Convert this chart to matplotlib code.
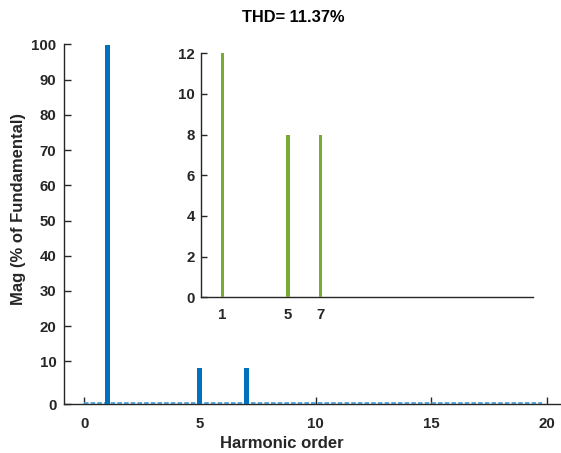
"""
Harmonic spectrum with inset of the harmonic content
"""
import matplotlib
matplotlib.use("Agg")
import matplotlib.pyplot as plt
import numpy as np

plt.rcParams["font.family"] = ["Liberation Sans", "DejaVu Sans"]
plt.rcParams["font.weight"] = "bold"

# main spectrum, % of fundamental
orders = [1, 5, 7]
mag_pct = [100.0, 8.1, 8.1]

# inset, harmonic magnitudes
inset_orders = [1, 5, 7]
inset_mag = [12.0, 8.0, 8.0]
inset_labels = ["1", "5", "7"]

main_xticks = [0, 5, 10, 15, 20]
main_yticks = [10, 20, 30, 40, 50, 60, 70, 80, 90, 100]
inset_yticks = [0, 2, 4, 6, 8, 10, 12]

thd = 11.37

BLUE = "#0072BD"
LIGHT_BLUE = "#4DA3DE"
GREEN = "#77AC30"
TXT = "#262626"
TICK_FS = 10.8

W, H = 561, 453
fig = plt.figure(figsize=(W / 100, H / 100), dpi=100)

# main axes
y0 = -2.1
ax = fig.add_axes([64 / W, (H - 404) / H, (W - 64) / W, (404 - 44.5) / H])
ax.bar(orders, np.array(mag_pct) - y0, bottom=y0, width=0.22, color=BLUE, zorder=3)
ax.plot([0, 19.8], [y0 + 0.15, y0 + 0.15], color=LIGHT_BLUE, lw=1.3,
        linestyle=(0, (2.5, 1.2)), zorder=2)
ax.set_xlim(-0.87, 20.6)
ax.set_ylim(y0, 100)
ax.set_xticks(main_xticks)
ax.set_yticks([y0] + main_yticks)
ax.set_yticklabels(["0"] + [str(v) for v in main_yticks])
for s in ("top", "right"):
    ax.spines[s].set_visible(False)
for s in ("left", "bottom"):
    ax.spines[s].set_color(TXT)
    ax.spines[s].set_linewidth(1.0)
ax.tick_params(axis="x", direction="in", length=5, pad=9, labelsize=TICK_FS,
               colors=TXT, width=1)
ax.tick_params(axis="y", direction="in", length=5, pad=5.5, labelsize=TICK_FS,
               colors=TXT, width=1)
ax.patch.set_alpha(0)

# inset axes
ai = fig.add_axes([201 / W, (H - 297.3) / H, (532.5 - 201) / W, (297.3 - 53.3) / H])
ai.bar(inset_orders, inset_mag, width=0.2, color=GREEN, zorder=3)
ai.set_xlim(-0.3, 19.9)
ai.set_ylim(0, 12)
ai.set_xticks(inset_orders)
ai.set_xticklabels(inset_labels)
ai.set_yticks(inset_yticks)
for s in ("top", "right"):
    ai.spines[s].set_visible(False)
for s in ("left", "bottom"):
    ai.spines[s].set_color(TXT)
    ai.spines[s].set_linewidth(1.0)
ai.tick_params(axis="x", length=0, pad=8, labelsize=TICK_FS, colors=TXT)
ai.tick_params(axis="y", direction="in", length=4, pad=4.5, labelsize=TICK_FS,
               colors=TXT, width=1)
ai.patch.set_alpha(0)

fig.text(293 / W, 1 - 17 / H, f"THD= {thd:.2f}%", ha="center", va="center",
         fontsize=11.8, fontweight="bold", color="black")
fig.text(281.5 / W, 1 - 443 / H, "Harmonic order", ha="center", va="center",
         fontsize=12, fontweight="bold", color=TXT)
fig.text(19 / W, 1 - 209 / H, "Mag (% of Fundamental)", ha="center", va="center",
         rotation=90, fontsize=12, fontweight="bold", color=TXT)

fig.savefig("out.png", dpi=100)
